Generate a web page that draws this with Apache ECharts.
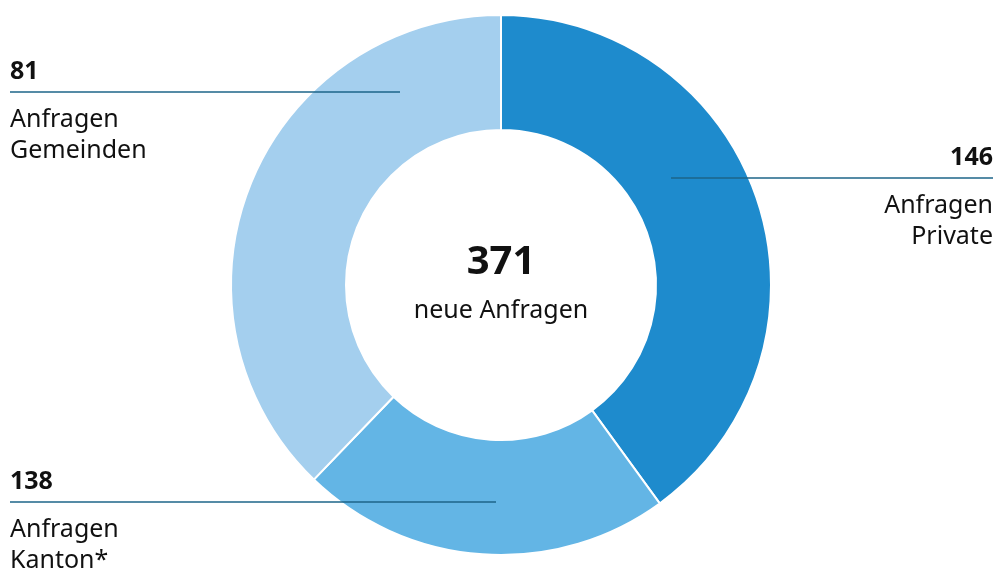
<!DOCTYPE html>
<html>
<head>
<meta charset="utf-8">
<script src="https://cdn.jsdelivr.net/npm/echarts@6/dist/echarts.min.js"></script>
<style>
  html, body { margin: 0; padding: 0; background: #fff; }
  #chart { width: 995px; height: 572px; }
</style>
</head>
<body>
<div id="chart"></div>
<script>
const sliceNames = ['Private', 'Kanton*', 'Gemeinden'];
const sliceValues = [146, 81, 138];
const sliceColors = ['#1e8bcd', '#63b5e5', '#a4cfee'];

// callouts as printed
const calloutValues = ['146', '138', '81'];
const calloutTexts = ['Anfragen\nPrivate', 'Anfragen\nKanton*', 'Anfragen\nGemeinden'];

const totalLabel = '371';
const totalText = 'neue Anfragen';

const FONT = '"Noto Sans", "Open Sans", sans-serif';
const LINE = '#1d6589';

// callout layout: line y, line x range, text side
const calloutLayout = [
  { y: 178, x1: 671, x2: 993, align: 'right', tx: 993 },
  { y: 502, x1: 10, x2: 496, align: 'left', tx: 10 },
  { y: 92, x1: 10, x2: 400, align: 'left', tx: 10 }
];

const graphics = [];
calloutLayout.forEach((c, i) => {
  graphics.push({
    type: 'line', z: 100,
    shape: { x1: c.x1, y1: c.y, x2: c.x2, y2: c.y },
    style: { stroke: LINE, lineWidth: 1.5 }
  });
  graphics.push({
    type: 'text', z: 100,
    style: {
      text: calloutValues[i], x: c.tx, y: c.y - 20,
      font: 'bold 25px ' + FONT, fill: '#111',
      align: c.align, verticalAlign: 'middle'
    }
  });
  graphics.push({
    type: 'text', z: 100,
    style: {
      text: calloutTexts[i], x: c.tx, y: c.y + 12,
      font: '25px ' + FONT, fill: '#111', lineHeight: 31,
      align: c.align, verticalAlign: 'top'
    }
  });
});
graphics.push({
  type: 'text', z: 100,
  style: {
    text: totalLabel, x: 501, y: 263,
    font: 'bold 40px ' + FONT, fill: '#111',
    align: 'center', verticalAlign: 'middle'
  }
});
graphics.push({
  type: 'text', z: 100,
  style: {
    text: totalText, x: 501, y: 311,
    font: '25px ' + FONT, fill: '#111',
    align: 'center', verticalAlign: 'middle'
  }
});

const option = {
  animation: false,
  graphic: graphics,
  series: [{
    type: 'pie',
    center: [501, 285],
    radius: [155, 270],
    startAngle: 90,
    clockwise: true,
    label: { show: false },
    labelLine: { show: false },
    itemStyle: { borderColor: '#fff', borderWidth: 2 },
    data: sliceNames.map((n, i) => ({
      name: n, value: sliceValues[i], itemStyle: { color: sliceColors[i] }
    }))
  }]
};

const myChart = echarts.init(document.getElementById('chart'));
myChart.setOption(option);
</script>
</body>
</html>
